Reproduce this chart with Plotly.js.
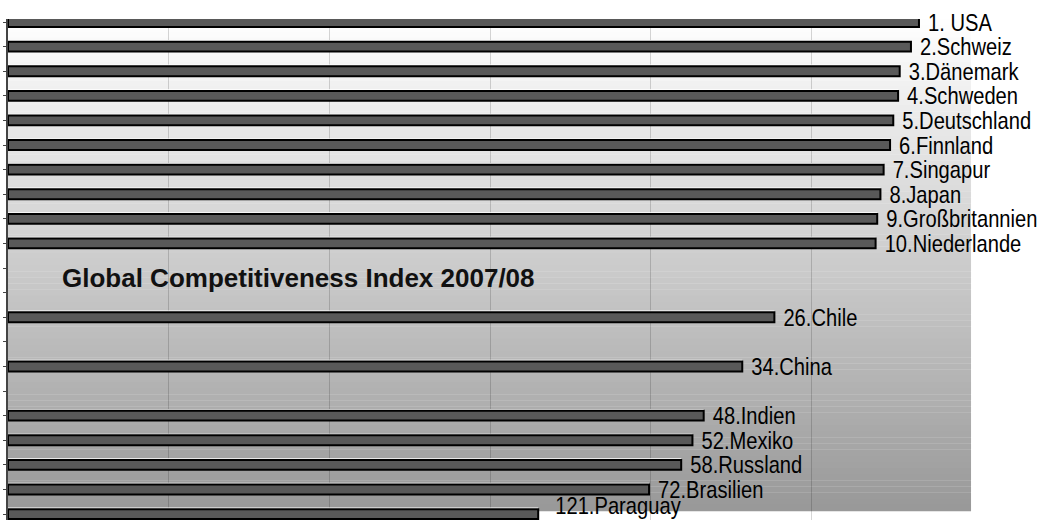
<!DOCTYPE html>
<html>
<head>
<meta charset="utf-8">
<script src="https://cdn.plot.ly/plotly-3.0.1.min.js"></script>
<style>html,body{margin:0;padding:0;background:#fff;}#chart{width:1039px;height:520px;}</style>
</head>
<body>
<div id="chart"></div>
<script>
// Rows in display order (blank rows are gaps in the original table)
var labels = ["1. USA", "2.Schweiz", "3.Dänemark", "4.Schweden", "5.Deutschland", "6.Finnland",
  "7.Singapur", "8.Japan", "9.Großbritannien", "10.Niederlande", "", "", "26.Chile", "",
  "34.China", "", "48.Indien", "52.Mexiko", "58.Russland", "72.Brasilien", "121.Paraguay"];
var scores = [5.67, 5.62, 5.55, 5.54, 5.51, 5.49, 5.45, 5.43, 5.41, 5.40, null, null, 4.77, null,
  4.57, null, 4.33, 4.26, 4.19, 3.99, 3.30];
var chartNote = "Global Competitiveness Index 2007/08";

var rows = labels.map(function (_, i) { return i; });

// gradient background bands (styling)
var shapes = [];
var N = 80, yTop = 1, yBot = 1 - (511 - 19) / 501;
for (var i = 0; i < N; i++) {
  var f = (i + 0.5) / N;
  var c = Math.round(255 - f * (255 - 152));
  shapes.push({
    type: 'rect', xref: 'paper', yref: 'paper', layer: 'below',
    x0: 0, x1: 0.999,
    y0: yTop - (yTop - yBot) * i / N,
    y1: yTop - (yTop - yBot) * (i + 1) / N - 0.0005,
    fillcolor: 'rgb(' + c + ',' + c + ',' + c + ')', line: {width: 0}
  });
}

var highlight = {
  type: 'bar', orientation: 'h', x: scores, y: rows,
  width: 0.22, offset: -0.27,
  marker: {color: '#ffffff', line: {width: 0}},
  hoverinfo: 'skip', showlegend: false
};
var main = {
  type: 'bar', orientation: 'h', x: scores, y: rows,
  width: 0.4, offset: -0.2,
  marker: {color: '#595959', line: {color: '#000000', width: 2}},
  text: labels, textposition: 'outside', constraintext: 'none', cliponaxis: false,
  textfont: {family: '"Liberation Sans", Arial, sans-serif', size: 24, color: '#000'},
  hoverinfo: 'x+text', showlegend: false
};

var layout = {
  width: 1039, height: 520,
  margin: {l: 8, r: 67, t: 19, b: 0, pad: 0},
  paper_bgcolor: '#ffffff', plot_bgcolor: 'rgba(0,0,0,0)',
  barmode: 'overlay', showlegend: false,
  xaxis: {range: [0, 6], dtick: 1, tick0: 0, showgrid: true, gridcolor: 'rgba(0,0,0,0.16)', gridwidth: 1,
    zeroline: false, showticklabels: false, showline: false, ticks: ''},
  yaxis: {range: [20.24, -0.122], autorange: false, tickmode: 'linear', tick0: 0, dtick: 1,
    showgrid: false, zeroline: false, showticklabels: false, showline: true,
    linecolor: '#444', linewidth: 2, ticks: 'outside', ticklen: 3, tickcolor: '#444', tickwidth: 1},
  shapes: shapes,
  annotations: [{
    text: chartNote, xref: 'paper', yref: 'paper', x: 0.054, y: 0.483,
    xanchor: 'left', yanchor: 'middle', showarrow: false,
    font: {family: '"Liberation Sans", Arial, sans-serif', size: 26, color: '#111', weight: 'bold'}
  }]
};

Plotly.newPlot('chart', [highlight, main], layout, {displayModeBar: false, staticPlot: true}).then(function (gd) {
  // condense the bar labels horizontally (narrow-font look), keeping the left edge
  var texts = gd.querySelectorAll('.bartext');
  texts.forEach(function (t) {
    if (!t.textContent) return;
    var bb = t.getBBox();
    var tr = t.getAttribute('transform') || '';
    tr += ' translate(' + (bb.x + 6) + ',0) scale(0.84,1) translate(' + (-bb.x) + ',0)';
    t.setAttribute('transform', tr);
    var r = t.getBoundingClientRect();
    if (r.bottom > 519) {
      t.setAttribute('transform', 'translate(8,' + (519 - r.bottom) + ') ' + tr);
    }
  });
});
</script>
</body>
</html>
